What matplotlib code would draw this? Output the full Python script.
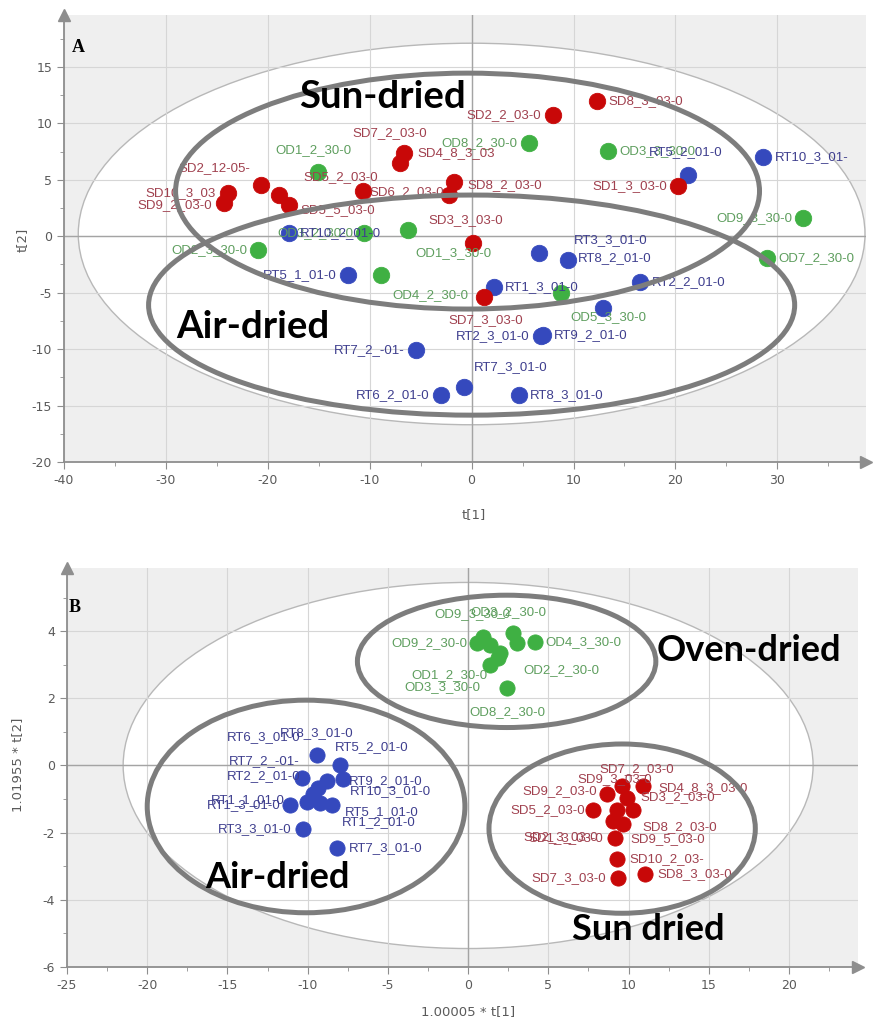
import matplotlib
matplotlib.use("Agg")
import matplotlib.pyplot as plt
from matplotlib.patches import Ellipse
from matplotlib.ticker import MultipleLocator

plt.rcParams["axes.unicode_minus"] = False
plt.rcParams["font.family"] = ["DejaVu Sans"]

# ---------------- Panel A : t[1] / t[2] scores ----------------
sdA_names = ["SD8_3_03-0", "SD2_2_03-0", "SD4_8_3_03", "SD7_2_03-0", "SD8_2_03-0",
             "SD6_2_03-0", "SD1_3_03-0", "SD10_3_03", "SD9_2_03-0", "SD2_12-05-",
             "", "SD5_5_03-0", "SD5_2_03-0", "SD3_3_03-0", "SD7_3_03-0"]
sdA_x = [12.35, 7.94, -6.67, -7.06, -1.76, -2.25, 20.29, -23.92, -24.31, -20.69,
         -18.92, -17.94, -10.69, 0.10, 1.18]
sdA_y = [11.95, 10.71, 7.35, 6.46, 4.78, 3.63, 4.42, 3.81, 2.92, 4.51,
         3.63, 2.74, 3.98, -0.62, -5.40]

odA_names = ["OD1_2_30-0", "OD1_3_30-0", "OD2_3_30-0", "OD3_2_30-0", "OD4_2_30-0",
             "OD8_2_30-0", "OD3_3_30-0", "OD9_3_30-0", "OD7_2_30-0", "OD5_3_30-0"]
odA_x = [-15.10, -6.27, -20.98, -10.59, -8.92, 5.59, 13.43, 32.55, 29.02, 8.73]
odA_y = [5.66, 0.53, -1.24, 0.27, -3.45, 8.23, 7.52, 1.59, -1.95, -5.04]

rtA_names = ["RT5_2_01-0", "RT10_3_01-", "RT3_3_01-0", "RT8_2_01-0", "RT2_2_01-0",
             "RT1_3_01-0", "", "RT9_2_01-0", "RT2_3_01-0", "RT7_3_01-0",
             "RT6_2_01-0", "RT8_3_01-0", "RT7_2_-01-", "RT5_1_01-0", "RT10_2_01-0"]
rtA_x = [21.27, 28.63, 6.57, 9.41, 16.57, 2.16, 12.94, 6.96, 6.76, -0.78,
         -3.04, 4.61, -5.49, -12.16, -17.94]
rtA_y = [5.40, 6.99, -1.50, -2.12, -4.07, -4.51, -6.37, -8.76, -8.85, -13.36,
         -14.07, -14.07, -10.09, -3.45, 0.27]

# ---------------- Panel B : scaled scores ----------------
odB_names = ["OD9_3_30-0", "OD9_2_30-0", "", "", "OD3_2_30-0", "OD2_2_30-0",
             "OD4_3_30-0", "OD1_2_30-0", "OD3_3_30-0", "OD8_2_30-0"]
odB_x = [0.93, 0.56, 1.37, 1.99, 2.80, 3.05, 4.17, 1.37, 1.87, 2.43]
odB_y = [3.82, 3.64, 3.58, 3.34, 3.94, 3.64, 3.67, 2.99, 3.19, 2.30]

rtB_names = ["RT8_3_01-0", "RT6_3_01-0", "RT5_2_01-0", "RT10_3_01-0", "RT2_2_01-0",
             "RT9_2_01-0", "RT1_3_01-0", "RT1_1_01-0", "RT5_1_01-0", "RT1_2_01-0",
             "RT7_2_-01-", "RT3_3_01-0", "RT7_3_01-0"]
rtB_x = [-9.41, -10.34, -7.98, -8.79, -9.35, -7.79, -11.09, -10.03, -9.22, -8.47,
         -9.66, -10.28, -8.16]
rtB_y = [0.30, -0.36, 0.00, -0.45, -0.66, -0.39, -1.19, -1.10, -1.13, -1.19,
         -0.84, -1.88, -2.45]

sdB_names = ["SD7_2_03-0", "SD4_8_3_03-0", "SD9_2_03-0", "SD9_3_03-0", "SD5_2_03-0",
             "SD3_2_03-0", "SD8_2_03-0", "SD2_3_03-0", "SD9_5_03-0", "SD1_3_03-0",
             "SD10_2_03-", "SD7_3_03-0", "SD8_3_03-0"]
sdB_x = [9.60, 10.90, 8.66, 9.91, 7.79, 9.28, 10.28, 9.03, 9.66, 9.16, 9.28, 9.35, 11.03]
sdB_y = [-0.60, -0.60, -0.84, -0.96, -1.34, -1.34, -1.34, -1.64, -1.73, -2.15,
         -2.78, -3.34, -3.22]

# label placement (pixel offsets dx, dy, alignment) for each observation
sdA_off = [(11, 0, "left"), (-11, 0, "right"), (14, 0, "left"), (-10, 30, "center"),
           (14, -3, "left"), (-5, 3, "right"), (-11, 0, "right"), (-12, 0, "right"),
           (-12, -2, "right"), (-10, 17, "right"), None, (12, -5, "left"),
           (15, 14, "right"), (-7, 23, "center"), (2, -23, "center")]
odA_off = [(-4, 22, "center"), (8, -23, "left"), (-10, 0, "right"), (-10, 0, "right"),
           (12, -20, "left"), (-11, 0, "right"), (11, 0, "left"), (-11, 0, "right"),
           (11, 0, "left"), (10, -24, "left")]
rtA_off = [(-3, 23, "center"), (11, 0, "left"), (35, 13, "left"), (10, 2, "left"),
           (11, 0, "left"), (11, 0, "left"), None, (11, 0, "left"), (-11, 0, "right"),
           (10, 20, "left"), (-11, 0, "right"), (11, 0, "left"), (-11, 0, "right"),
           (-11, 0, "right"), (11, 0, "left")]
odB_off = [(-11, 23, "center"), (-10, 0, "right"), None, None, (-5, 21, "center"),
           (6, -27, "left"), (10, 0, "left"), (-3, -10, "right"), (-18, -29, "right"),
           (0, -24, "center")]
rtB_off = [(0, 22, "center"), (-2, 40, "right"), (-5, 18, "left"), (23, -10, "left"),
           (-18, 12, "right"), (6, -2, "left"), (-10, 0, "right"), (-22, 2, "right"),
           (25, -9, "left"), (10, -17, "left"), (-13, 33, "right"), (-12, 0, "right"),
           (12, 0, "left")]
sdB_off = [(15, 17, "center"), (15, -2, "left"), (-10, 3, "right"), (-12, 19, "center"),
           (-8, 0, "right"), (23, 13, "left"), (9, -17, "left"), (-15, -17, "right"),
           (7, -15, "left"), (-12, 0, "right"), (12, 0, "left"), (-12, 0, "right"),
           (12, 0, "left")]

RED, GREEN, BLUE = "#c80808", "#3fb043", "#3549bd"
RED_T, GREEN_T, BLUE_T = "#a0404e", "#5e9e5e", "#3e3e8e"
SPINE = "#8e8e8e"
TICK_T = "#5a5a5a"
HAND = "#7d7d7d"

W, H = 873, 1023
fig = plt.figure(figsize=(W / 100, H / 100), dpi=100)
fig.patch.set_facecolor("white")

axA = fig.add_axes([64 / W, 1 - 462 / H, (866 - 64) / W, (462 - 15) / H])
axB = fig.add_axes([67 / W, 1 - 967 / H, (858 - 67) / W, (967 - 568) / H])


def frame(ax, xlim, ylim, xmaj, xmin, ymaj, ymin, t2):
    ax.set_xlim(*xlim)
    ax.set_ylim(*ylim)
    ax.set_facecolor("#efefef")
    ax.set_axisbelow(True)
    for s in ("top", "right"):
        ax.spines[s].set_visible(False)
    for s in ("left", "bottom"):
        ax.spines[s].set_color(SPINE)
        ax.spines[s].set_linewidth(1.3)
    ax.xaxis.set_major_locator(MultipleLocator(xmaj))
    ax.xaxis.set_minor_locator(MultipleLocator(xmin))
    ax.yaxis.set_major_locator(MultipleLocator(ymaj))
    ax.yaxis.set_minor_locator(MultipleLocator(ymin))
    ax.tick_params(which="both", direction="out", color=SPINE, labelcolor=TICK_T,
                   labelsize=9)
    ax.tick_params(which="major", length=5)
    ax.tick_params(which="minor", length=3)
    ax.grid(True, which="major", color="#d6d6d6", lw=0.8)
    # Hotelling T2 region
    ax.add_patch(Ellipse(t2[0], t2[1], t2[2], facecolor="white",
                         edgecolor="#b8b8b8", lw=1.0, zorder=0.2))
    ax.axhline(0, color="#a4a4a4", lw=1.0, zorder=0.7)
    ax.axvline(0, color="#a4a4a4", lw=1.0, zorder=0.7)
    ax.plot(1.0, 0.0, marker=">", ms=9, color=SPINE, transform=ax.transAxes,
            clip_on=False, zorder=8)
    ax.plot(0.0, 1.0, marker="^", ms=9, color=SPINE, transform=ax.transAxes,
            clip_on=False, zorder=8)


def group(ax, xs, ys, names, offs, color, tcolor, size):
    ax.scatter(xs, ys, s=size, c=color, edgecolors=color, linewidths=0.6, zorder=3)
    for x, y, n, o in zip(xs, ys, names, offs):
        if not n or o is None:
            continue
        dx, dy, ha = o
        ax.annotate(n, (x, y), xytext=(dx, dy), textcoords="offset pixels",
                    ha=ha, va="center", fontsize=9.5, color=tcolor,
                    family=["Liberation Sans"], zorder=4)


def hand_ring(ax, c, w, h):
    ax.add_patch(Ellipse(c, w, h, facecolor="none", edgecolor=HAND, lw=3.6, zorder=6))


def big(ax, x, y, s, size=27):
    ax.text(x, y, s, ha="center", va="center", fontsize=size, fontweight="bold",
            family=["Lato", "DejaVu Sans"], color="black", zorder=7)


# Panel A
frame(axA, (-40, 38.7), (-20, 19.6), 10, 5, 5, 2.5, ((0, 0.2), 77.2, 33.8))
group(axA, odA_x, odA_y, odA_names, odA_off, GREEN, GREEN_T, 140)
group(axA, rtA_x, rtA_y, rtA_names, rtA_off, BLUE, BLUE_T, 140)
group(axA, sdA_x, sdA_y, sdA_names, sdA_off, RED, RED_T, 140)
hand_ring(axA, (-0.4, 4.0), 57.3, 20.9)
hand_ring(axA, (0.0, -6.1), 63.4, 19.5)
big(axA, -8.7, 12.3, "Sun-dried", 27.5)
big(axA, -21.5, -8.0, "Air-dried", 27.5)

# Panel B
frame(axB, (-25, 24.3), (-6, 5.88), 5, 2.5, 2, 1, ((0, 0.0), 43.0, 10.9))
group(axB, odB_x, odB_y, odB_names, odB_off, GREEN, GREEN_T, 120)
group(axB, rtB_x, rtB_y, rtB_names, rtB_off, BLUE, BLUE_T, 120)
group(axB, sdB_x, sdB_y, sdB_names, sdB_off, RED, RED_T, 120)
hand_ring(axB, (2.4, 3.10), 18.6, 3.94)
hand_ring(axB, (-10.1, -1.22), 19.8, 6.33)
hand_ring(axB, (9.6, -1.88), 16.6, 5.04)
big(axB, 17.5, 3.43, "Oven-dried", 26)
big(axB, -11.9, -3.34, "Air-dried", 26)
big(axB, 11.2, -4.87, "Sun dried", 26)

# panel letters and axis titles
fig.text(78 / W, 1 - 47 / H, "A", ha="center", va="center", fontsize=13,
         fontweight="bold", family=["Liberation Serif"])
fig.text(75 / W, 1 - 608 / H, "B", ha="center", va="center", fontsize=13,
         fontweight="bold", family=["Liberation Serif"])
fig.text(474 / W, 1 - 515 / H, "t[1]", ha="center", va="center", fontsize=9.5,
         color=TICK_T)
fig.text(22 / W, 1 - 240 / H, "t[2]", ha="center", va="center", fontsize=9.5,
         color=TICK_T, rotation=90)
fig.text(468 / W, 1 - 1012 / H, "1.00005 * t[1]", ha="center", va="center",
         fontsize=9.5, color=TICK_T)
fig.text(18 / W, 1 - 765 / H, "1.01955 * t[2]", ha="center", va="center",
         fontsize=9.5, color=TICK_T, rotation=90)

fig.savefig("out.png", dpi=100)
